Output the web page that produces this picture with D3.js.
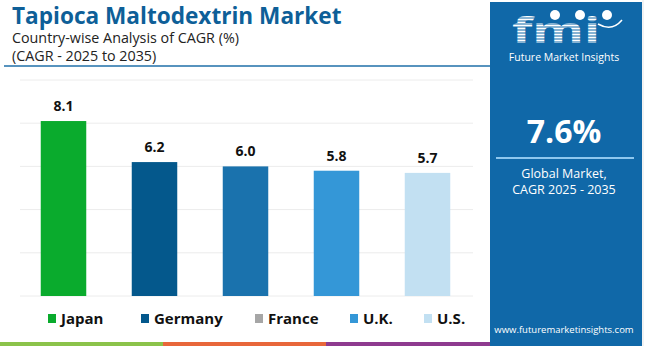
<!DOCTYPE html>
<html>
<head>
<meta charset="utf-8">
<script src="https://cdn.jsdelivr.net/npm/d3@7"></script>
<style>
  body { margin: 0; background: #fff; }
  text { font-family: "Open Sans", "DejaVu Sans", sans-serif; }
</style>
</head>
<body>
<script>
// chart data
var countries = ["Japan", "Germany", "France", "U.K.", "U.S."];
var cagr = [8.1, 6.2, 6.0, 5.8, 5.7];
var barColors = ["#0aab2d", "#04588c", "#1a72ad", "#3497d7", "#c2e0f2"];
var legendColors = ["#0aab2d", "#04588c", "#a6a6a6", "#3497d7", "#c2e0f2"];
var yTicks = [0, 2, 4, 6, 8, 10];
var stripColors = ["#8bc34a", "#e8673a", "#8e3a8f"];

var W = 650, H = 346;
var svg = d3.select("body").append("svg").attr("width", W).attr("height", H);

svg.append("rect").attr("width", W).attr("height", H).attr("fill", "#fff");

// scales
var x = d3.scaleBand().domain(countries).range([18, 473])
          .paddingInner(0.5).paddingOuter(0.25);
var y = d3.scaleLinear().domain([0, 10]).range([296, 80]);

// gridlines
svg.append("g").selectAll("line")
   .data(yTicks)
   .enter().append("line")
   .attr("x1", 20).attr("x2", 473)
   .attr("y1", function (d) { return y(d); })
   .attr("y2", function (d) { return y(d); })
   .attr("stroke", "#ececec").attr("stroke-width", 1);

// bars
svg.append("g").selectAll("rect")
   .data(countries)
   .enter().append("rect")
   .attr("x", function (d) { return x(d); })
   .attr("width", x.bandwidth())
   .attr("y", function (d, i) { return y(cagr[i]); })
   .attr("height", function (d, i) { return y(0) - y(cagr[i]); })
   .attr("fill", function (d, i) { return barColors[i]; });

// value labels
svg.append("g").selectAll("text")
   .data(countries)
   .enter().append("text")
   .attr("x", function (d) { return x(d) + x.bandwidth() / 2; })
   .attr("y", function (d, i) { return y(cagr[i]) - 10; })
   .attr("text-anchor", "middle")
   .attr("font-size", 14).attr("font-weight", "bold").attr("fill", "#111")
   .text(function (d, i) { return cagr[i].toFixed(1); });

// title block
svg.append("text").attr("x", 12).attr("y", 23.5)
   .attr("font-family", "Roboto").attr("font-size", 22.6).attr("font-weight", "bold").attr("fill", "#0e5f98")
   .text("Tapioca Maltodextrin Market");
svg.append("text").attr("x", 12).attr("y", 42.5)
   .attr("font-size", 14.3).attr("fill", "#222")
   .text("Country-wise Analysis of CAGR (%)");
svg.append("text").attr("x", 12).attr("y", 61)
   .attr("font-size", 14.3).attr("fill", "#222")
   .text("(CAGR - 2025 to 2035)");
svg.append("line").attr("x1", 4).attr("x2", 490).attr("y1", 66).attr("y2", 66)
   .attr("stroke", "#1f6fa8").attr("stroke-width", 1.5);

// legend
var legendX = [48, 141, 255, 350, 424];
var legend = svg.append("g").selectAll("g")
   .data(countries)
   .enter().append("g")
   .attr("transform", function (d, i) { return "translate(" + legendX[i] + ",314)"; });
legend.append("rect").attr("width", 8).attr("height", 9)
   .attr("fill", function (d, i) { return legendColors[i]; });
legend.append("text").attr("x", 13).attr("y", 9.5)
   .attr("font-size", 15).attr("font-weight", "bold").attr("fill", "#111")
   .text(function (d) { return d; });

// bottom strip
svg.append("g").selectAll("rect")
   .data(stripColors)
   .enter().append("rect")
   .attr("x", function (d, i) { return i * 163; })
   .attr("width", 164).attr("y", 342).attr("height", 4)
   .attr("fill", function (d) { return d; });

// right panel
var panel = svg.append("g");
panel.append("rect").attr("x", 490).attr("y", 2).attr("width", 152).attr("height", 344)
   .attr("fill", "#1068a8");
panel.append("line").attr("x1", 643).attr("x2", 643).attr("y1", 0).attr("y2", H)
   .attr("stroke", "#e6e6e6");

// fmi logo
panel.append("text").attr("x", 512).attr("y", 43)
   .attr("font-family", "DejaVu Serif").attr("font-size", 36).attr("font-weight", "bold")
   .attr("fill", "#fff").attr("textLength", 88).attr("lengthAdjust", "spacingAndGlyphs")
   .text("fmi");
panel.append("g").selectAll("line")
   .data(d3.range(15, 45, 3))
   .enter().append("line")
   .attr("x1", 505).attr("x2", 625)
   .attr("y1", function (d) { return d; }).attr("y2", function (d) { return d; })
   .attr("stroke", "#1068a8").attr("stroke-width", 1);
panel.append("g").selectAll("circle")
   .data([555, 580, 607])
   .enter().append("circle")
   .attr("cx", function (d) { return d; }).attr("cy", 15).attr("r", 5)
   .attr("fill", "#fff");
panel.append("path").attr("d", "M598,24 Q612,32 622,20")
   .attr("fill", "none").attr("stroke", "#fff").attr("stroke-width", 1.5);
panel.append("text").attr("x", 564).attr("y", 61).attr("text-anchor", "middle")
   .attr("font-size", 10.5).attr("fill", "#fff")
   .text("Future Market Insights");

panel.append("text").attr("x", 564).attr("y", 143).attr("text-anchor", "middle")
   .attr("font-size", 32).attr("font-weight", "bold").attr("fill", "#fff")
   .text("7.6%");
panel.append("line").attr("x1", 496).attr("x2", 634).attr("y1", 158).attr("y2", 158)
   .attr("stroke", "#8ec7ee").attr("stroke-width", 2);
panel.append("text").attr("x", 564).attr("y", 178).attr("text-anchor", "middle")
   .attr("font-size", 12.5).attr("fill", "#fff")
   .text("Global Market,");
panel.append("text").attr("x", 564).attr("y", 194).attr("text-anchor", "middle")
   .attr("font-size", 12.5).attr("fill", "#fff")
   .text("CAGR 2025 - 2035");
panel.append("text").attr("x", 564).attr("y", 333).attr("text-anchor", "middle")
   .attr("font-size", 9.5).attr("fill", "#fff")
   .text("www.futuremarketinsights.com");
</script>
</body>
</html>
